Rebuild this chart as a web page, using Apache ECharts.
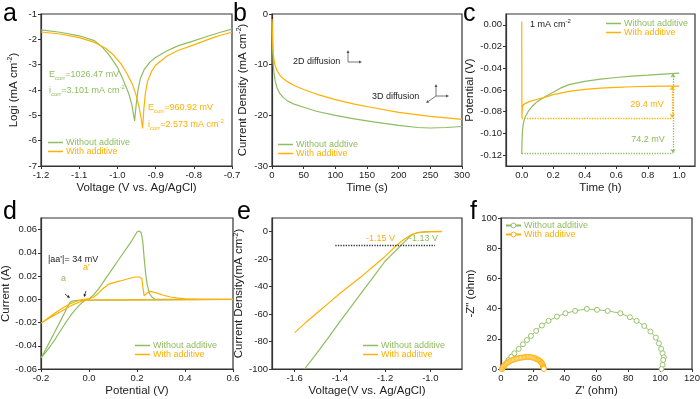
<!DOCTYPE html>
<html>
<head>
<meta charset="utf-8">
<script src="https://cdn.jsdelivr.net/npm/echarts@6/dist/echarts.min.js"></script>
<style>
  html, body { margin: 0; padding: 0; background: #fff; }
  #main { width: 700px; height: 399px; }
</style>
</head>
<body>
<div id="main"></div>
<script>
const G = '#8fbc5f';
const O = '#ffb000';
const INK = '#222';
const FONT = "'Liberation Sans', Arial, Helvetica, sans-serif";

// a: Tafel 曲线 [V, log i]
const tafelWithout = [[-1.2,-1.63],[-1.15,-1.72],[-1.1,-1.86],[-1.06,-2.05],[-1.04,-2.3],[-1.02,-2.65],[-1.0,-3.1],[-0.985,-3.6],[-0.97,-4.15],[-0.962,-4.6],[-0.955,-5.22],[-0.951,-4.6],[-0.946,-4.0],[-0.94,-3.55],[-0.93,-3.2],[-0.915,-2.9],[-0.9,-2.72],[-0.87,-2.45],[-0.84,-2.25],[-0.8,-2.06],[-0.76,-1.86],[-0.73,-1.72],[-0.7,-1.6]];
const tafelWith = [[-1.2,-1.71],[-1.15,-1.79],[-1.1,-1.93],[-1.06,-2.12],[-1.03,-2.36],[-1.01,-2.62],[-0.99,-2.98],[-0.975,-3.35],[-0.96,-3.8],[-0.95,-4.25],[-0.943,-4.7],[-0.938,-5.1],[-0.934,-5.52],[-0.931,-4.8],[-0.927,-4.15],[-0.921,-3.65],[-0.91,-3.25],[-0.9,-3.02],[-0.87,-2.66],[-0.84,-2.43],[-0.8,-2.22],[-0.76,-1.99],[-0.73,-1.84],[-0.7,-1.72]];

// b: 计时电流 [t, j]
const caWithout = [[0,-1.5],[1,-7],[2,-10],[3,-11.5],[5,-13.2],[8,-14.6],[12,-15.6],[18,-16.5],[25,-17.2],[35,-17.8],[50,-18.4],[70,-19.2],[100,-20.0],[130,-20.7],[160,-21.3],[200,-22.0],[230,-22.4],[250,-22.5],[275,-22.4],[300,-22.2]];
const caWith = [[0,-1],[1,-5.5],[2,-7.8],[3,-8.9],[5,-10.2],[8,-11.2],[12,-12.0],[18,-12.8],[25,-13.4],[35,-14.1],[50,-14.9],[70,-15.8],[100,-16.9],[130,-17.8],[160,-18.5],[200,-19.4],[250,-20.2],[300,-20.8]];

// c: 电位-时间 [h, V]
const potWithout = [[0,-0.119],[0.002,-0.105],[0.005,-0.097],[0.01,-0.091],[0.02,-0.0855],[0.04,-0.08],[0.07,-0.0745],[0.1,-0.0705],[0.15,-0.066],[0.2,-0.062],[0.25,-0.058],[0.3,-0.055],[0.4,-0.052],[0.5,-0.05],[0.6,-0.0485],[0.7,-0.0472],[0.8,-0.0463],[0.9,-0.0453],[1.0,-0.0445]];
const potWith = [[0,0.003],[0.001,-0.0856],[0.004,-0.076],[0.01,-0.0735],[0.02,-0.0722],[0.05,-0.0705],[0.1,-0.0685],[0.15,-0.0665],[0.2,-0.0643],[0.3,-0.0612],[0.4,-0.0595],[0.5,-0.0583],[0.6,-0.0575],[0.7,-0.057],[0.8,-0.0567],[0.9,-0.0565],[1.0,-0.0564]];
const cBase = [-0.0856, -0.118];   // 过电位参考线 (with, without)
const cTop = [-0.0566, -0.0448];   // 稳定电位 (with, without)
const cArrowT = [0.955, 0.96];

// d: CV 曲线 [V, I]
const cvWithout = [[0.6,0],[0.4,-0.0002],[0.2,-0.0005],[0.0,-0.0008],[-0.05,-0.001],[-0.07,-0.0015],[-0.08,-0.003],[-0.09,-0.0065],[-0.1,-0.011],[-0.12,-0.019],[-0.14,-0.027],[-0.16,-0.035],[-0.18,-0.043],[-0.2,-0.0505],[-0.18,-0.0455],[-0.16,-0.04],[-0.14,-0.034],[-0.12,-0.0275],[-0.1,-0.021],[-0.08,-0.015],[-0.06,-0.0095],[-0.04,-0.005],[-0.02,-0.0015],[0.0,0.0003],[0.02,0.004],[0.04,0.009],[0.06,0.015],[0.08,0.021],[0.1,0.027],[0.12,0.033],[0.14,0.039],[0.16,0.045],[0.18,0.051],[0.2,0.058],[0.21,0.0588],[0.218,0.057],[0.224,0.05],[0.23,0.035],[0.236,0.022],[0.243,0.012],[0.252,0.005],[0.262,0.002],[0.275,0],[0.6,0]];
const cvWith = [[0.6,0],[0.4,-0.0003],[0.2,-0.0005],[0.05,-0.0005],[0.0,-0.0006],[-0.02,-0.001],[-0.04,-0.0025],[-0.06,-0.004],[-0.08,-0.006],[-0.1,-0.0085],[-0.13,-0.012],[-0.16,-0.0155],[-0.2,-0.0205],[-0.17,-0.016],[-0.14,-0.0115],[-0.11,-0.0075],[-0.08,-0.004],[-0.05,-0.0015],[-0.03,-0.0003],[0.0,0.0003],[0.02,0.002],[0.04,0.0055],[0.06,0.0095],[0.08,0.0128],[0.1,0.0142],[0.13,0.0158],[0.16,0.0175],[0.19,0.0192],[0.21,0.0192],[0.22,0.018],[0.225,0.01],[0.23,0.003],[0.235,0.0025],[0.245,0.006],[0.255,0.0068],[0.28,0.0055],[0.31,0.0035],[0.34,0.002],[0.37,0.001],[0.4,0.0004],[0.45,0.0001],[0.6,0]];

// e: LSV [V, j]
const lsvWithout = [[-1.556,-100],[-1.5,-88],[-1.45,-77],[-1.4,-65.5],[-1.35,-54.5],[-1.3,-43.5],[-1.25,-32.5],[-1.2,-21.5],[-1.17,-16.5],[-1.14,-11.7],[-1.13,-10],[-1.12,-8.3],[-1.1,-5],[-1.09,-3.5],[-1.08,-2.2],[-1.07,-1.3],[-1.05,-0.5],[-1.02,-0.1],[-1.0,0],[-0.95,0.1]];
const lsvWith = [[-1.6,-73.5],[-1.55,-66],[-1.5,-59],[-1.45,-52],[-1.4,-45],[-1.35,-38.5],[-1.3,-32],[-1.25,-25],[-1.2,-18],[-1.17,-13.2],[-1.15,-10],[-1.13,-7.3],[-1.12,-6],[-1.1,-3.8],[-1.09,-2.8],[-1.08,-1.9],[-1.06,-0.9],[-1.03,-0.2],[-1.0,0.1],[-0.95,0.2]];
const eLevel = [-1.42, -0.98, -10];

// f: Nyquist [Z', -Z'']
const eisWithout = [[0.6,0],[1.7,1.5],[3.3,3.8],[4.8,6],[6.5,8.2],[8.4,10.4],[11.1,13.3],[13.8,16.4],[16.3,19.2],[18.8,21.9],[22.1,25.2],[25.7,28.8],[29.9,31.9],[35.1,34.7],[40.5,36.9],[46.6,38.5],[53.9,39.8],[60.3,39.2],[67,38.5],[75,36.9],[81,34.3],[85.2,31.9],[90,28.5],[93.9,24.8],[97.3,20.8],[99.2,17],[100.6,13.3],[101.5,10.4],[102.3,7.7],[101.9,6],[101.5,2.7],[100.8,0]];
const eisWith = [[0.6,0],[0.9,0.7],[1.3,1.3],[1.7,1.9],[2.1,2.4],[2.6,3.0],[3.1,3.5],[3.7,4.0],[4.4,4.4],[5.1,4.9],[5.8,5.3],[6.5,5.7],[7.3,6.0],[8.1,6.3],[9.0,6.6],[9.8,6.9],[10.6,7.1],[11.5,7.3],[12.3,7.5],[13.2,7.6],[14.2,7.7],[15.0,7.9],[15.9,8.0],[16.7,8.0],[17.5,8.0],[18.4,7.9],[19.2,7.7],[20.1,7.5],[20.9,7.3],[21.6,7.0],[22.3,6.6],[23.0,6.3],[23.6,6.0],[24.1,5.6],[24.6,5.1],[25.1,4.7],[25.5,4.2],[25.8,3.7],[26.1,3.1],[26.3,2.5],[26.5,2.0],[26.6,1.4],[26.7,0.9],[26.8,0.4],[26.9,0]];

const grids = [
  { left: 41, top: 14, width: 191, height: 152 },
  { left: 272, top: 14, width: 190, height: 152 },
  { left: 506, top: 14, width: 189, height: 152 },
  { left: 41, top: 218, width: 192, height: 151 },
  { left: 272, top: 218, width: 190, height: 151 },
  { left: 501, top: 218, width: 191, height: 151 }
].map(g => Object.assign({ show: true, borderColor: '#333', borderWidth: 1.2, backgroundColor: 'transparent', outerBoundsMode: 'none' }, g));

const nameRich = {
  n: { fontSize: 11.5, color: INK, fontFamily: FONT, lineHeight: 14 },
  s: { fontSize: 7, color: INK, fontFamily: FONT, lineHeight: 14, verticalAlign: 'top' }
};

// 通用坐标轴
function axis(gi, min, max, o) {
  const lab = { fontSize: 9.5, color: INK, margin: 4, fontFamily: FONT };
  const tick = { show: true, length: 3, lineStyle: { color: '#333', width: 1 } };
  if (o.fmt) lab.formatter = o.fmt;
  if (o.ticks) { lab.customValues = o.ticks; tick.customValues = o.ticks; }
  const a = {
    type: 'value', gridIndex: gi, min: min, max: max,
    name: o.name, nameLocation: 'middle', nameGap: o.gap,
    nameTextStyle: { fontSize: 11.5, color: INK, fontFamily: FONT, rich: nameRich },
    axisLine: { show: true, onZero: false, lineStyle: { color: '#333', width: 1.2 } },
    axisTick: tick, axisLabel: lab, splitLine: { show: false }
  };
  if (o.interval) a.interval = o.interval;
  return a;
}

const f1 = v => v.toFixed(1);
const f2 = v => v.toFixed(2);

const xAxes = [
  axis(0, -1.2, -0.7, { interval: 0.1, fmt: f1, name: 'Voltage (V vs. Ag/AgCl)', gap: 16 }),
  axis(1, 0, 300, { interval: 50, name: 'Time (s)', gap: 16 }),
  axis(2, -0.1, 1.1, { ticks: [0, 0.2, 0.4, 0.6, 0.8, 1.0], fmt: f1, name: 'Time (h)', gap: 16 }),
  axis(3, -0.2, 0.6, { interval: 0.2, fmt: f1, name: 'Potential (V)', gap: 16 }),
  axis(4, -1.7, -0.86, { ticks: [-1.6, -1.4, -1.2, -1.0], fmt: f1, name: 'Voltage(V vs. Ag/AgCl)', gap: 16 }),
  axis(5, 0, 120, { interval: 20, name: "Z' (ohm)", gap: 16 })
];
const yAxes = [
  axis(0, -7, -1, { interval: 1, name: '{n|Logi (mA cm}{s|-2}{n|)}', gap: 20 }),
  axis(1, -30, 0, { interval: 10, name: '{n|Current Density (mA cm}{s|-2}{n|)}', gap: 22 }),
  axis(2, -0.13, 0.01, { ticks: [-0.12, -0.1, -0.08, -0.06, -0.04, -0.02, 0], fmt: f2, name: 'Potential (V)', gap: 30 }),
  axis(3, -0.06, 0.07, { ticks: [-0.06, -0.04, -0.02, 0, 0.02, 0.04, 0.06], fmt: f2, name: 'Current (A)', gap: 25 }),
  axis(4, -100, 10, { ticks: [-100, -80, -60, -40, -20, 0], name: '{n|Current Density(mA cm}{s|-2}{n|)}', gap: 22 }),
  axis(5, 0, 100, { interval: 20, name: '-Z" (ohm)', gap: 24 })
];

function line(i, name, color, data, extra) {
  return Object.assign({
    type: 'line', name: name, xAxisIndex: i, yAxisIndex: i, data: data,
    symbol: 'none', color: color, lineStyle: { color: color, width: 1.2 },
    silent: true, animation: false
  }, extra || {});
}

function dotted(color, pairs) {
  return {
    silent: true, animation: false, symbol: ['none', 'none'],
    label: { show: false },
    lineStyle: { color: color, type: 'dotted', width: 1.3 },
    data: pairs
  };
}

// 空心圆点
const ring = c => ({
  symbol: 'circle', symbolSize: 5, showSymbol: true,
  itemStyle: { color: '#fff', borderColor: c, borderWidth: 0.9 },
  lineStyle: { color: c, width: 0.9 }
});

const series = [
  line(0, 'Without additive', G, tafelWithout),
  line(0, 'With additive', O, tafelWith),
  line(1, 'Without addtive', G, caWithout),
  line(1, 'With additive', O, caWith),
  line(2, 'Without additive', G, potWithout, {
    markLine: dotted(G, [
      [{ coord: [0, cBase[1]] }, { coord: [cArrowT[1], cBase[1]] }],
      [{ coord: [cArrowT[1], cTop[1]], symbol: 'arrow', symbolSize: 4 }, { coord: [cArrowT[1], cBase[1]], symbol: 'arrow', symbolSize: 4 }]
    ])
  }),
  line(2, 'With additive', O, potWith, {
    markLine: dotted(O, [
      [{ coord: [0, cBase[0]] }, { coord: [cArrowT[0], cBase[0]] }],
      [{ coord: [cArrowT[0], cTop[0]], symbol: 'arrow', symbolSize: 4 }, { coord: [cArrowT[0], cBase[0]], symbol: 'arrow', symbolSize: 4 }]
    ])
  }),
  line(3, 'Without additive', G, cvWithout),
  line(3, 'With additive', O, cvWith),
  line(4, 'Without additive', G, lsvWithout),
  line(4, 'With additive', O, lsvWith, {
    markLine: dotted('#333', [[{ coord: [eLevel[0], eLevel[2]] }, { coord: [eLevel[1], eLevel[2]] }]])
  }),
  line(5, 'Without additive', G, eisWithout, ring(G)),
  line(5, 'With additive', O, eisWith, ring(O))
];

function legend(left, top, names, withSymbol) {
  const item = (n, c) => {
    const d = { name: n, textStyle: { color: c } };
    if (withSymbol) d.itemStyle = { color: '#fff', borderColor: c, borderWidth: 0.9 };
    else d.icon = 'rect';
    return d;
  };
  return {
    left: left, top: top, orient: 'vertical', padding: 0,
    itemWidth: 15, itemHeight: withSymbol ? 6 : 1.5, itemGap: 0,
    selectedMode: false,
    textStyle: { fontSize: 9, fontFamily: FONT, padding: [0, 0, 0, -2] },
    data: [item(names[0], G), item(names[1], O)]
  };
}

const legends = [
  legend(48, 138, ['Without additive', 'With additive']),
  legend(278, 140, ['Without addtive', 'With additive']),
  legend(606, 19, ['Without additive', 'With additive']),
  legend(135, 341, ['Without additive', 'With additive']),
  legend(363, 341, ['Without additive', 'With additive']),
  legend(505, 221, ['Without additive', 'With additive'], true)
];

// 注释文字
function txt(x, y, text, color, size, align) {
  const lh = size + 4;
  return {
    type: 'text', x: x, y: y, silent: true,
    style: {
      text: text, fill: color, fontSize: size, fontFamily: FONT,
      align: align || 'left', verticalAlign: 'middle',
      rich: {
        m: { fontSize: size, fill: color, fontFamily: FONT, lineHeight: lh },
        b: { fontSize: 6, fill: color, fontFamily: FONT, lineHeight: lh, verticalAlign: 'bottom' },
        p: { fontSize: 6, fill: color, fontFamily: FONT, lineHeight: lh, verticalAlign: 'top' }
      }
    }
  };
}

function arrow(x1, y1, x2, y2, color, w) {
  const a = Math.atan2(y2 - y1, x2 - x1);
  const L = 3, W = 1.5;
  const bx = x2 - L * Math.cos(a), by = y2 - L * Math.sin(a);
  return [
    { type: 'line', silent: true, shape: { x1: x1, y1: y1, x2: bx, y2: by }, style: { stroke: color, lineWidth: w || 0.8 } },
    { type: 'polygon', silent: true, shape: { points: [[x2, y2], [bx - W * Math.sin(a), by + W * Math.cos(a)], [bx + W * Math.sin(a), by - W * Math.cos(a)]] }, style: { fill: color } }
  ];
}

function letter(x, y, ch) {
  return { type: 'text', x: x, y: y, silent: true, style: { text: ch, fill: '#000', fontSize: 25, fontFamily: FONT, verticalAlign: 'bottom' } };
}

const graphics = [
  letter(3, 27, 'a'), letter(233, 27, 'b'), letter(463, 27, 'c'),
  letter(3, 225, 'd'), letter(237, 225, 'e'), letter(470, 225, 'f'),
  txt(49, 75, '{m|E}{b|corr}{m|=1026.47 mV}', G, 9),
  txt(49, 91, '{m|i}{b|corr}{m|=3.101 mA cm}{p|-2}', G, 9),
  txt(148, 108, '{m|E}{b|corr}{m|=960.92 mV}', O, 9),
  txt(148, 125, '{m|i}{b|corr}{m|=2.573 mA cm}{p|-2}', O, 9),
  txt(293, 62, '{m|2D diffusion}', '#222', 9),
  txt(372, 97, '{m|3D diffusion}', '#222', 9),
  txt(530, 25, '{m|1 mA cm}{p|-2}', '#222', 9),
  txt(647, 105, '{m|29.4 mV}', O, 9, 'center'),
  txt(648, 140, '{m|74.2 mV}', G, 9, 'center'),
  txt(48, 260, "{m||aa'|= 34 mV}", '#222', 9),
  txt(61, 279, '{m|a}', G, 9),
  txt(83, 268, "{m|a'}", O, 9),
  txt(366, 239, '{m|-1.15 V}', O, 9),
  txt(409, 239, '{m|-1.13 V}', G, 9)
]
  .concat(arrow(348, 62, 348, 50, '#555'), arrow(348, 62, 362, 62, '#555'))
  .concat(arrow(436, 96, 436, 84, '#555'), arrow(436, 96, 449, 96, '#555'), arrow(436, 96, 426, 103, '#555'))
  .concat(arrow(65, 294, 70, 298, '#222'), arrow(86, 291, 84, 297, '#222'));

const chart = echarts.init(document.getElementById('main'), null, { renderer: 'canvas' });
chart.setOption({
  backgroundColor: '#fff',
  animation: false,
  textStyle: { fontFamily: FONT },
  grid: grids,
  xAxis: xAxes,
  yAxis: yAxes,
  legend: legends,
  series: series,
  graphic: graphics
});
</script>
</body>
</html>
